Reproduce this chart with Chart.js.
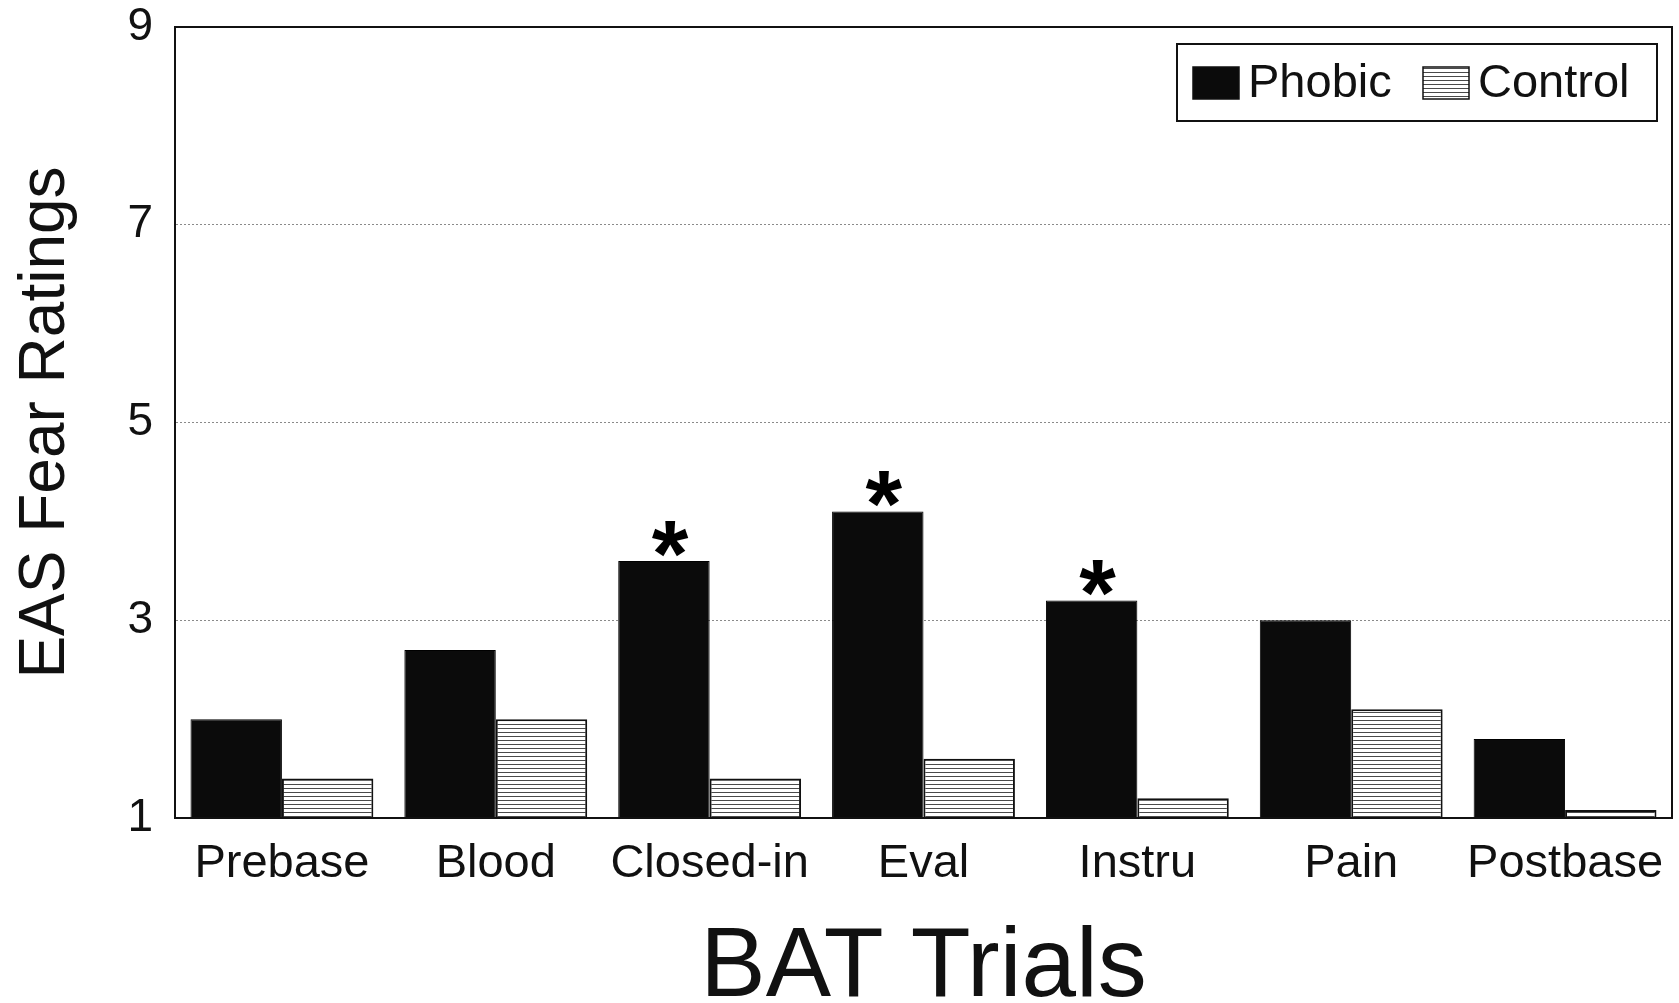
<!DOCTYPE html>
<html>
<head>
<meta charset="utf-8">
<script src="https://cdn.jsdelivr.net/npm/chart.js@4/dist/chart.umd.min.js"></script>
<style>
html,body{margin:0;padding:0;background:#fff;}
#wrap{width:1679px;height:1003px;position:relative;}
</style>
</head>
<body>
<div id="wrap"><canvas id="c" width="1679" height="1003"></canvas></div>
<script>
const categories = ["Prebase", "Blood", "Closed-in", "Eval", "Instru", "Pain", "Postbase"];
const phobic = [2.0, 2.7, 3.6, 4.1, 3.2, 3.0, 1.8];
const control = [1.4, 2.0, 1.4, 1.6, 1.2, 2.1, 1.08];
const significant = [false, false, true, true, true, false, false];
const yTicks = [1, 3, 5, 7, 9];

const FONT = "'Liberation Sans', Arial, Helvetica, sans-serif";

function makeStripe() {
  const c = document.createElement('canvas');
  c.width = 4; c.height = 4;
  const x = c.getContext('2d');
  x.fillStyle = '#ffffff'; x.fillRect(0, 0, 4, 4);
  x.fillStyle = '#4a4a4a'; x.fillRect(0, 0, 4, 1);
  return document.getElementById('c').getContext('2d').createPattern(c, 'repeat');
}
const stripe = makeStripe();

const framePlugin = {
  id: 'frame',
  afterDraw(chart) {
    const {ctx, chartArea: a} = chart;
    ctx.save();
    ctx.strokeStyle = '#111';
    ctx.lineWidth = 2;
    ctx.strokeRect(a.left, a.top, a.right - a.left, a.bottom - a.top);
    ctx.restore();
  }
};

const starPlugin = {
  id: 'stars',
  afterDatasetsDraw(chart) {
    const {ctx} = chart;
    const meta = chart.getDatasetMeta(0);
    ctx.save();
    ctx.fillStyle = '#000';
    ctx.font = "bold 94px " + FONT;
    ctx.textAlign = 'center';
    ctx.textBaseline = 'alphabetic';
    significant.forEach((s, i) => {
      if (!s) return;
      const el = meta.data[i];
      ctx.fillText('*', el.x + 6, el.y + 25);
    });
    ctx.restore();
  }
};

const legendPlugin = {
  id: 'boxLegend',
  afterDraw(chart) {
    const {ctx} = chart;
    const ds = chart.data.datasets;
    ctx.save();
    ctx.fillStyle = '#fff';
    ctx.fillRect(1177, 44, 480, 77);
    ctx.strokeStyle = '#111';
    ctx.lineWidth = 2;
    ctx.strokeRect(1177, 44, 480, 77);
    ctx.font = "47px " + FONT;
    ctx.textBaseline = 'middle';
    ctx.textAlign = 'left';
    const xs = [1193, 1423];
    ds.forEach((d, i) => {
      const x = xs[i];
      ctx.fillStyle = d.backgroundColor;
      ctx.fillRect(x, 67, 46, 32);
      ctx.strokeStyle = '#111';
      ctx.lineWidth = 1.5;
      ctx.strokeRect(x, 67, 46, 32);
      ctx.fillStyle = '#111';
      ctx.fillText(d.label, x + 55, 84);
    });
    ctx.restore();
  }
};

new Chart(document.getElementById('c'), {
  type: 'bar',
  data: {
    labels: categories,
    datasets: [
      {label: 'Phobic', data: phobic, backgroundColor: '#0b0b0b', borderColor: '#000', borderWidth: 1,
       categoryPercentage: 0.855, barPercentage: 1.0, base: 1},
      {label: 'Control', data: control, backgroundColor: stripe, borderColor: '#111', borderWidth: 2,
       categoryPercentage: 0.855, barPercentage: 1.0, base: 1}
    ]
  },
  options: {
    responsive: false,
    animation: false,
    devicePixelRatio: 1,
    layout: {padding: {top: 27, right: 7, left: 0, bottom: 0}},
    plugins: {legend: {display: false}, tooltip: {enabled: false}},
    scales: {
      x: {
        grid: {display: false, drawTicks: false},
        border: {display: true, color: '#111', width: 2},
        ticks: {color: '#111', font: {family: FONT, size: 47}, padding: 18, maxRotation: 0, autoSkip: false},
        title: {display: true, text: 'BAT Trials', color: '#111',
                font: {family: FONT, size: 98, lineHeight: 0.69}, padding: {top: 0, bottom: 0}},
        afterFit(s) { s.height = 185; s.paddingLeft = 0; s.paddingRight = 0; }
      },
      y: {
        min: 1, max: 9,
        afterBuildTicks(s) { s.ticks = yTicks.map(v => ({value: v})); },
        grid: {
          drawTicks: false,
          color: ctx => (ctx.tick && (ctx.tick.value === 1 || ctx.tick.value === 9)) ? 'rgba(0,0,0,0)' : '#8a8a8a',
          lineWidth: 1
        },
        border: {display: true, color: '#111', width: 2, dash: [2, 2]},
        ticks: {color: '#111', font: {family: FONT, size: 46}, padding: 22},
        title: {display: true, text: 'EAS Fear Ratings', color: '#111',
                font: {family: FONT, size: 64, lineHeight: 1.2}, padding: {top: 8, bottom: 0}},
        afterFit(s) { s.width = 175; s.paddingTop = 0; s.paddingBottom = 0; }
      }
    }
  },
  plugins: [framePlugin, starPlugin, legendPlugin]
});
</script>
</body>
</html>
